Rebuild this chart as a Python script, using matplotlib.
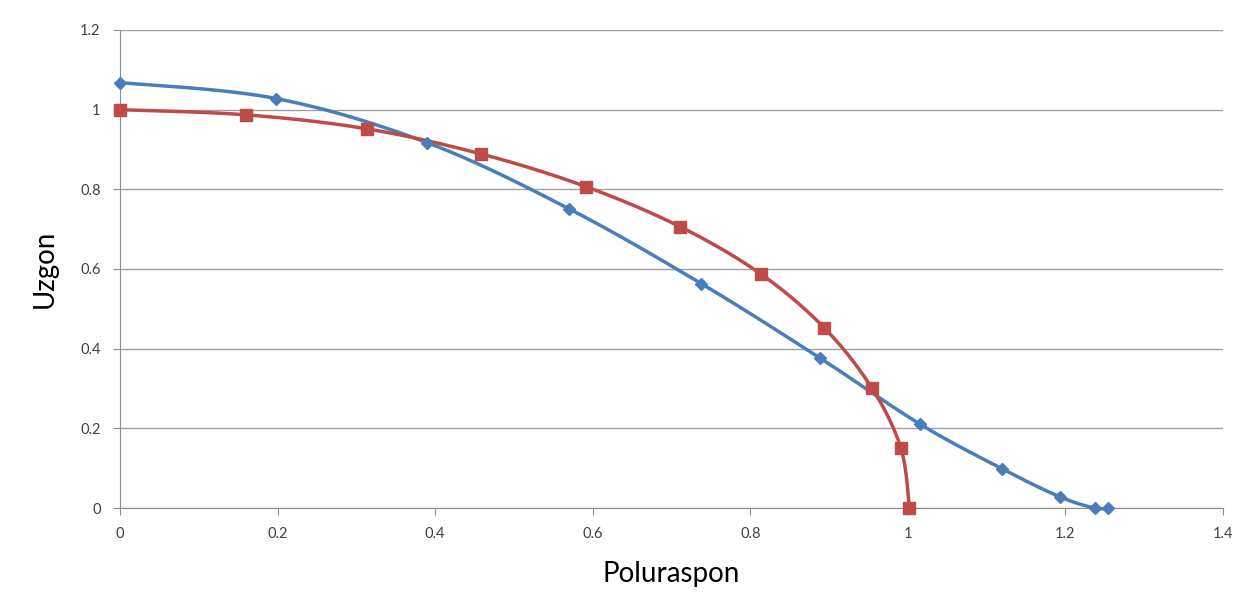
import numpy as np
import matplotlib
matplotlib.use("Agg")
import matplotlib.pyplot as plt

plt.rcParams['font.family'] = ['Lato', 'DejaVu Sans']

# podaci ocitani sa slike
plavi_x = [0.0, 0.198, 0.390, 0.570, 0.738, 0.888, 1.015, 1.120, 1.193, 1.237, 1.254]
plavi_y = [1.068, 1.028, 0.917, 0.751, 0.563, 0.377, 0.211, 0.098, 0.028, 0.0, 0.0]
crveni_x = [0.0, 0.160, 0.313, 0.458, 0.591, 0.711, 0.813, 0.894, 0.954, 0.991, 1.002]
crveni_y = [1.0, 0.987, 0.952, 0.889, 0.807, 0.706, 0.588, 0.452, 0.302, 0.151, 0.0]
x_ticks = [0, 0.2, 0.4, 0.6, 0.8, 1, 1.2, 1.4]
y_ticks = [0, 0.2, 0.4, 0.6, 0.8, 1, 1.2]

def glatko(xs, ys, n=40):
    # Bezier izgladjivanje kao u Excelu (Catmull-Rom)
    p = np.column_stack([xs, ys])
    p = np.vstack([p[0], p, p[-1]])
    out = []
    for i in range(1, len(p) - 2):
        p0, p1, p2, p3 = p[i - 1], p[i], p[i + 1], p[i + 2]
        c1 = p1 + (p2 - p0) / 6
        c2 = p2 - (p3 - p1) / 6
        t = np.linspace(0, 1, n)[:, None]
        seg = (1 - t)**3 * p1 + 3 * (1 - t)**2 * t * c1 + 3 * (1 - t) * t**2 * c2 + t**3 * p2
        out.append(seg)
    out = np.vstack(out)
    return out[:, 0], out[:, 1]

plava = '#4a7ebb'
crvena = '#be4b48'

fig = plt.figure(figsize=(12.48, 5.95), dpi=100)
ax = fig.add_axes([0.0962, 0.1462, 0.8838, 0.8034])

gx, gy = glatko(plavi_x, plavi_y)
ax.plot(gx, gy, color=plava, lw=2.5, zorder=3, clip_on=False)
ax.plot(plavi_x, plavi_y, ls='none', marker='D', ms=6, color=plava, zorder=4, clip_on=False)
gx, gy = glatko(crveni_x, crveni_y)
ax.plot(gx, gy, color=crvena, lw=2.5, zorder=3, clip_on=False)
ax.plot(crveni_x, crveni_y, ls='none', marker='s', ms=8, color=crvena, zorder=4, clip_on=False)

ax.set_xlim(0, 1.4)
ax.set_ylim(0, 1.2)
ax.set_xticks(x_ticks)
ax.set_yticks(y_ticks)
ax.set_xticklabels([f'{v:g}' for v in x_ticks])
ax.set_yticklabels([f'{v:g}' for v in y_ticks])
ax.yaxis.grid(True, color='#a0a0a0', lw=1)
ax.set_axisbelow(True)
for s in ['top', 'right']:
    ax.spines[s].set_visible(False)
for s in ['left', 'bottom']:
    ax.spines[s].set_color('#8c8c8c')
ax.tick_params(axis='both', direction='out', length=5, color='#8c8c8c',
               labelsize=10.5, labelcolor='#404040', pad=9)
ax.set_xlabel('Poluraspon', fontsize=20, labelpad=14)
ax.set_ylabel('Uzgon', fontsize=20, labelpad=16)

plt.savefig('out.png', dpi=100)
